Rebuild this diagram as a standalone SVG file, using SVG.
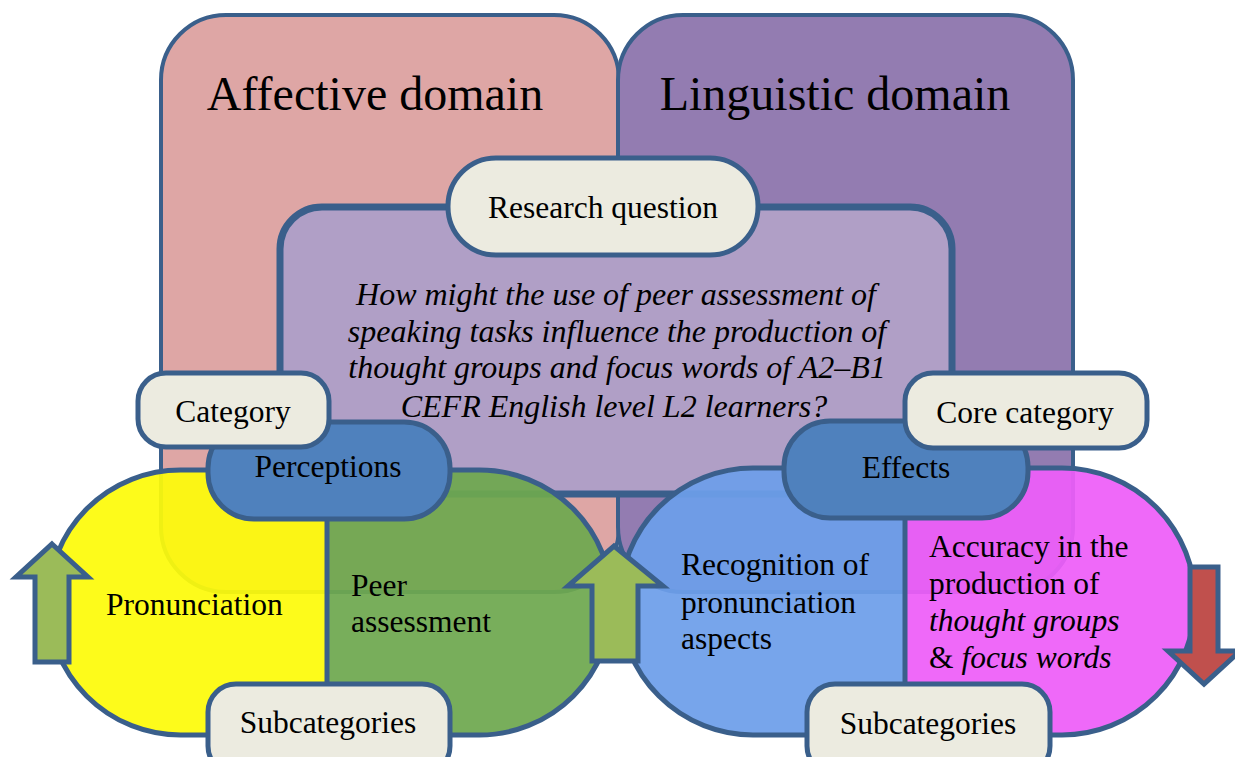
<svg xmlns="http://www.w3.org/2000/svg" width="1235" height="757" viewBox="0 0 1235 757">
  <defs>
    <style>
      .edge { stroke: #3a5f8b; }
      .t { font-family: "Liberation Serif", "Times New Roman", serif; fill: #000; }
      .big { font-size: 48px; }
      .lbl { font-size: 31.5px; }
      .q { font-size: 32px; font-style: italic; }
      .mid { text-anchor: middle; }
      .pill { fill: #ecebe0; stroke: #3a5f8b; stroke-width: 5; }
      .pill-blue { fill: #4f81bd; stroke: #3a5f8b; stroke-width: 5; }
      .half { fill-opacity: 0.93; }
    </style>
    <clipPath id="clipLeftOval">
      <rect x="48" y="470" width="564" height="265" rx="132.5"/>
    </clipPath>
    <clipPath id="clipRightOval">
      <rect x="620" y="468" width="575" height="267" rx="133"/>
    </clipPath>
  </defs>

  <rect width="1235" height="757" fill="#ffffff"/>

  <!-- Domain panels -->
  <g id="affective-domain">
    <rect x="161" y="15" width="458" height="577" rx="65" fill="#dea6a5" class="edge" stroke-width="4"/>
    <text class="t big mid" x="375" y="110">Affective domain</text>
  </g>
  <g id="linguistic-domain">
    <rect x="618" y="15" width="455" height="577" rx="65" fill="#937cb1" class="edge" stroke-width="4"/>
    <text class="t big mid" x="835" y="110">Linguistic domain</text>
  </g>

  <!-- Research question panel -->
  <g id="research-question">
    <rect x="280" y="207" width="672" height="287" rx="42" fill="#b09fc6" class="edge" stroke-width="7"/>
    <rect x="448" y="158" width="310" height="97" rx="48" class="pill"/>
    <text class="t lbl mid" x="603" y="218">Research question</text>
    <text class="t q mid" x="616" y="305">How might the use of peer assessment of</text>
    <text class="t q mid" x="617" y="342">speaking tasks influence the production of</text>
    <text class="t q mid" x="617" y="378">thought groups and focus words of A2–B1</text>
    <text class="t q mid" x="614" y="417">CEFR English level L2 learners?</text>
  </g>

  <!-- Left oval: pronunciation / peer assessment -->
  <g id="perceptions-oval">
    <g clip-path="url(#clipLeftOval)">
      <rect class="half" x="40" y="460" width="287" height="290" fill="#fdfb0a"/>
      <rect class="half" x="327" y="460" width="300" height="290" fill="#6ea84f"/>
    </g>
    <rect x="48" y="470" width="564" height="265" rx="132.5" fill="none" class="edge" stroke-width="5"/>
    <line x1="327" y1="470" x2="327" y2="735" class="edge" stroke-width="5"/>
    <text class="t lbl" x="106" y="615">Pronunciation</text>
    <text class="t lbl" x="351" y="596">Peer</text>
    <text class="t lbl" x="351" y="632">assessment</text>
  </g>

  <!-- Right oval: recognition / accuracy -->
  <g id="effects-oval">
    <g clip-path="url(#clipRightOval)">
      <rect class="half" x="610" y="460" width="295" height="290" fill="#6d9eea"/>
      <rect class="half" x="905" y="460" width="300" height="290" fill="#ee5ef9"/>
    </g>
    <rect x="620" y="468" width="575" height="267" rx="133" fill="none" class="edge" stroke-width="5"/>
    <line x1="905" y1="468" x2="905" y2="735" class="edge" stroke-width="5"/>
    <text class="t lbl" x="681" y="575">Recognition of</text>
    <text class="t lbl" x="681" y="613">pronunciation</text>
    <text class="t lbl" x="681" y="649">aspects</text>
    <text class="t lbl" x="929" y="557">Accuracy in the</text>
    <text class="t lbl" x="929" y="594">production of</text>
    <text class="t lbl" x="929" y="631" font-style="italic">thought groups</text>
    <text class="t lbl" x="929" y="668">&amp; <tspan font-style="italic">focus words</tspan></text>
  </g>

  <!-- Category labels -->
  <g id="perceptions">
    <rect x="208" y="422" width="242" height="97" rx="46" class="pill-blue"/>
    <text class="t lbl mid" x="328" y="477">Perceptions</text>
  </g>
  <g id="category">
    <rect x="138" y="373" width="191" height="74" rx="28" class="pill"/>
    <text class="t lbl mid" x="233" y="422">Category</text>
  </g>
  <g id="effects">
    <rect x="784" y="421" width="244" height="97" rx="46" class="pill-blue"/>
    <text class="t lbl mid" x="906" y="478">Effects</text>
  </g>
  <g id="core-category">
    <rect x="905" y="373" width="242" height="75" rx="28" class="pill"/>
    <text class="t lbl mid" x="1025" y="423">Core category</text>
  </g>
  <g id="subcategories-left">
    <rect x="208" y="684" width="242" height="90" rx="28" class="pill"/>
    <text class="t lbl mid" x="328" y="733">Subcategories</text>
  </g>
  <g id="subcategories-right">
    <rect x="807" y="684" width="243" height="90" rx="28" class="pill"/>
    <text class="t lbl mid" x="928" y="734">Subcategories</text>
  </g>

  <!-- Trend arrows -->
  <g id="connectors" stroke="#3a5f8b" stroke-width="5" stroke-linejoin="miter">
    <polygon points="52,544 88,577 69,577 69,662 35,662 35,577 16,577" fill="#9bbb59"/>
    <polygon points="614,546 663,586 638,586 638,661 592,661 592,586 568,586" fill="#9bbb59"/>
    <polygon points="1190,567 1218,567 1218,651 1240,651 1204,684 1168,651 1190,651" fill="#c0504d"/>
  </g>
</svg>
